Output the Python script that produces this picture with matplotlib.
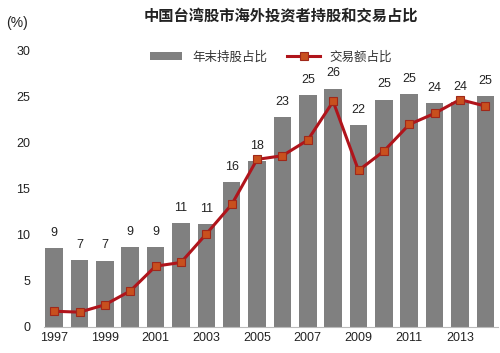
import numpy as np
import matplotlib.pyplot as plt

plt.rcParams['font.family'] = ['Noto Sans CJK SC', 'DejaVu Sans']

# Data
years = np.arange(1997, 2015)
holding = [8.6, 7.3, 7.2, 8.7, 8.7, 11.3, 11.2, 15.7, 18.0, 22.8,
           25.2, 25.9, 21.9, 24.7, 25.3, 24.3, 24.4, 25.1]
holding_labels = ['9', '7', '7', '9', '9', '11', '11', '16', '18', '23',
                  '25', '26', '22', '25', '25', '24', '24', '25']
trading = [1.7, 1.6, 2.4, 3.9, 6.6, 7.0, 10.1, 13.3, 18.2, 18.6,
           20.3, 24.5, 17.0, 19.1, 22.0, 23.2, 24.7, 24.0]
tick_years = years[::2]

fig = plt.figure(figsize=(5, 3.53), dpi=100)
ax = fig.add_axes([0.088, 0.074, 0.908, 0.782])

x = np.arange(len(years))
bars = ax.bar(x, holding, width=0.69, color='#808080', label='年末持股占比', zorder=2)
line, = ax.plot(x, trading, color='#B0141B', lw=2.2, marker='s', markersize=6,
                markerfacecolor='#C8501E', markeredgecolor='#A0281A', markeredgewidth=0.8,
                label='交易额占比', zorder=3)

# value labels above bars
for xi, h, lab in zip(x, holding, holding_labels):
    ax.text(xi, h + 1.0, lab, ha='center', va='bottom', fontsize=9,
            family='Liberation Sans', color='#222222')

ax.set_xlim(-0.4, 17.5)
ax.set_ylim(0, 30)
ax.set_yticks(np.arange(0, 31, 5))
ax.set_xticks(x[::2])
ax.set_xticklabels([str(y) for y in tick_years])
ax.tick_params(axis='both', length=0, labelsize=9, colors='#222222')
for lab in ax.get_xticklabels() + ax.get_yticklabels():
    lab.set_family('Liberation Sans')
ax.tick_params(axis='y', pad=10)

for s in ['top', 'right', 'left']:
    ax.spines[s].set_visible(False)
ax.spines['bottom'].set_color('#BBBBBB')

ax.legend([bars, line], ['年末持股占比', '交易额占比'], loc='center',
          bbox_to_anchor=(0.5, 0.978), ncol=2, frameon=False,
          fontsize=9, handlelength=2.6, columnspacing=1.6, labelcolor='#333333')

fig.text(0.562, 0.955, '中国台湾股市海外投资者持股和交易占比', ha='center', va='center',
         fontsize=11, fontweight='bold', color='#222222')
fig.text(0.012, 0.935, '(%)', ha='left', va='center', fontsize=10,
         family='Liberation Sans', color='#222222')

fig.savefig('out.png', dpi=100)
